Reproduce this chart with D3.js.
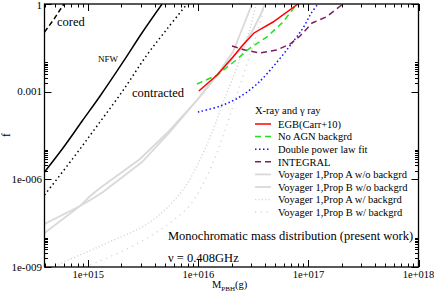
<!DOCTYPE html>
<html>
<head>
<meta charset="utf-8">
<script src="https://cdn.jsdelivr.net/npm/d3@7"></script>
<style>
  body { margin: 0; background: #fff; }
  svg text { font-family: "Liberation Serif", "Times New Roman", serif; fill: #000; }
</style>
</head>
<body>
<div id="chart"></div>
<script>
// ---- data (M_PBH in g, f) ----
var coredM = [4.0e14, 4.9e14, 6.0e14];
var coredF = [0.11, 0.31, 1];

var nfwM = [4.0e14, 5.8e14, 8.8e14, 1.28e15, 2.07e15, 3.07e15, 4.68e15];
var nfwF = [1.78e-6, 1.09e-5, 9.9e-5, 7.1e-4, 0.0104, 0.102, 1];

var contractedM = [4.0e14, 7.3e14, 1.2e15, 2.02e15, 3.41e15, 5.19e15, 7.88e15];
var contractedF = [2.9e-7, 5.4e-6, 6.7e-5, 9.7e-4, 0.018, 0.139, 1];

var egbM = [1.01e16, 1.48e16, 2.06e16, 2.49e16, 3.2e16, 4.77e16, 8.04e16];
var egbF = [1.05e-3, 3.7e-3, 0.0153, 0.0366, 0.102, 0.242, 1];

var noAgnM = [9.7e15, 1.48e16, 2.15e16, 2.94e16, 4.2e16, 5.87e16, 7.87e16];
var noAgnF = [1.83e-3, 3.7e-3, 0.0112, 0.0312, 0.0743, 0.242, 1];

var dplM = [9.9e15, 1.57e16, 2.29e16, 3.41e16, 5.19e16, 7.1e16, 8.93e16, 1.05e17, 1.22e17];
var dplF = [2.0e-4, 3.2e-4, 6.1e-4, 1.83e-3, 0.0104, 0.0463, 0.151, 0.455, 1];

var integralM = [2.02e16, 2.65e16, 3.63e16, 5.19e16, 6.81e16, 8.39e16, 1.08e17, 1.45e17, 2.06e17];
var integralF = [0.0366, 0.0267, 0.021, 0.0267, 0.0428, 0.0803, 0.224, 0.359, 1];

var voyAM = [4.0e14, 8.4e14, 1.04e15, 1.28e15, 2.95e15, 5.19e15, 9.73e15, 1.48e16, 2.06e16, 2.65e16, 3.07e16];
var voyAF = [2.96e-8, 1.22e-7, 2.69e-7, 5.05e-7, 4.96e-6, 3.85e-5, 5.19e-4, 3.7e-3, 0.0228, 0.242, 1];

var voyBM = [4.0e14, 8.4e14, 1.08e15, 1.36e15, 3.08e15, 5.52e15, 1.03e16, 1.57e16, 2.39e16, 3.13e16, 3.63e16, 4.03e16];
var voyBF = [1.46e-8, 1.22e-7, 2.12e-7, 3.68e-7, 3.92e-6, 4.17e-5, 6.56e-4, 4.71e-3, 0.0267, 0.129, 0.388, 1];

var voyABgM = [4.68e14, 8.4e14, 1.48e15, 3.64e15, 7.24e15, 1.03e16, 1.36e16, 1.64e16, 2.02e16, 2.55e16, 3.01e16, 3.34e16];
var voyABgF = [1e-9, 2.57e-9, 6.62e-9, 3.46e-8, 4.31e-7, 4.58e-6, 4.88e-5, 3.5e-4, 2.51e-3, 0.0267, 0.191, 1];

var voyBBgM = [9.33e14, 2.55e15, 5.19e15, 8.4e15, 1.15e16, 1.51e16, 1.94e16, 2.39e16, 2.94e16, 3.48e16, 4.03e16];
var voyBBgF = [1e-9, 5.23e-9, 2.73e-8, 1.32e-7, 9.48e-7, 1.01e-5, 1.59e-4, 1.69e-3, 0.018, 0.129, 1];

var xMajor = [1e15, 1e16, 1e17, 1e18];
var xMajorLabels = ["1e+015", "1e+016", "1e+017", "1e+018"];
var yMajor = [1e-9, 1e-6, 1e-3, 1];
var yMajorLabels = ["1e-009", "1e-006", "0.001", "1"];

var legendTitle = "X-ray and \u03b3 ray";
var legendNames = ["EGB(Carr+10)", "No AGN backgrd", "Double power law fit", "INTEGRAL",
  "Voyager 1,Prop A w/o backgrd", "Voyager 1,Prop B w/o backgrd",
  "Voyager 1,Prop A w/ backgrd", "Voyager 1,Prop B w/ backgrd"];

// ---- chart ----
var width = 436, height = 293;
var pL = 44.5, pR = 418.5, pT = 4, pB = 267;

var x = d3.scaleLog().domain([4e14, 1e18]).range([pL, pR]);
var y = d3.scaleLog().domain([1e-9, 1]).range([pB, pT]);

var svg = d3.select("#chart").append("svg")
  .attr("width", width)
  .attr("height", height);

svg.append("defs").append("clipPath").attr("id", "clip")
  .append("rect")
  .attr("x", pL).attr("y", pT)
  .attr("width", pR - pL).attr("height", pB - pT);

function zip(ms, fs) {
  return ms.map(function(m, i) { return [m, fs[i]]; });
}

var smooth = d3.line()
  .x(function(d) { return x(d[0]); })
  .y(function(d) { return y(d[1]); })
  .curve(d3.curveCatmullRom.alpha(0.5));

var straight = d3.line()
  .x(function(d) { return x(d[0]); })
  .y(function(d) { return y(d[1]); });

// styles for each series
var series = [
  { data: zip(voyABgM, voyABgF), color: "#d6d6d6", w: 1.4, dash: "1.2,2.2", gen: smooth },
  { data: zip(voyBBgM, voyBBgF), color: "#d6d6d6", w: 1.4, dash: "1.2,4.5", gen: smooth },
  { data: zip(voyAM, voyAF), color: "#d9d9d9", w: 1.8, dash: null, gen: straight },
  { data: zip(voyBM, voyBF), color: "#d9d9d9", w: 1.8, dash: null, gen: straight },
  { data: zip(coredM, coredF), color: "#000", w: 1.5, dash: "5,3", gen: straight },
  { data: zip(nfwM, nfwF), color: "#000", w: 1.5, dash: null, gen: smooth },
  { data: zip(contractedM, contractedF), color: "#000", w: 1.5, dash: "1.5,3", gen: smooth },
  { data: zip(dplM, dplF), color: "#1010ff", w: 1.5, dash: "1.5,2.5", gen: smooth },
  { data: zip(integralM, integralF), color: "#7b1f5e", w: 1.5, dash: "6,4", gen: straight },
  { data: zip(noAgnM, noAgnF), color: "#22e022", w: 1.5, dash: "6,4", gen: straight },
  { data: zip(egbM, egbF), color: "#ff0000", w: 1.5, dash: null, gen: straight }
];

svg.append("g").attr("clip-path", "url(#clip)")
  .selectAll("path")
  .data(series)
  .enter().append("path")
  .attr("d", function(d) { return d.gen(d.data); })
  .attr("fill", "none")
  .attr("stroke", function(d) { return d.color; })
  .attr("stroke-width", function(d) { return d.w; })
  .attr("stroke-dasharray", function(d) { return d.dash; });

// frame
svg.append("rect")
  .attr("x", pL).attr("y", pT)
  .attr("width", pR - pL).attr("height", pB - pT)
  .attr("fill", "none")
  .attr("stroke", "#000")
  .attr("stroke-width", 1.3);

// ticks (inward, all four sides)
var xMinor = [];
[1e14, 1e15, 1e16, 1e17].forEach(function(dec) {
  for (var k = 2; k <= 9; k++) {
    var v = dec * k;
    if (v >= 4e14 && v < 1e18) xMinor.push(v);
  }
});
var yMinor = [];
[1e-9, 1e-6, 1e-3].forEach(function(m) {
  for (var k = 2; k <= 10; k++) yMinor.push(m * k);
});

var ticks = svg.append("g").attr("stroke", "#000").attr("stroke-width", 1);
function xTick(v, len) {
  var px = Math.round(x(v)) + 0.5;
  ticks.append("line").attr("x1", px).attr("x2", px).attr("y1", pB).attr("y2", pB - len);
  ticks.append("line").attr("x1", px).attr("x2", px).attr("y1", pT).attr("y2", pT + len);
}
function yTick(v, len) {
  var py = Math.round(y(v)) + 0.5;
  ticks.append("line").attr("x1", pL).attr("x2", pL + len).attr("y1", py).attr("y2", py);
  ticks.append("line").attr("x1", pR).attr("x2", pR - len).attr("y1", py).attr("y2", py);
}
xMinor.forEach(function(v) { xTick(v, 3.5); });
xMajor.forEach(function(v) { xTick(v, 7); });
yMinor.forEach(function(v) { yTick(v, 3.5); });
yMajor.forEach(function(v) { yTick(v, 7); });

// tick labels
svg.append("g").selectAll("text")
  .data(xMajor)
  .enter().append("text")
  .attr("x", function(d) { return x(d); })
  .attr("y", 278)
  .attr("text-anchor", "middle")
  .style("font-size", "10.5px")
  .text(function(d, i) { return xMajorLabels[i]; });

svg.append("g").selectAll("text")
  .data(yMajor)
  .enter().append("text")
  .attr("x", 42)
  .attr("y", function(d) { return Math.max(y(d) + 3.8, 9); })
  .attr("text-anchor", "end")
  .style("font-size", "11px")
  .text(function(d, i) { return yMajorLabels[i]; });

// axis titles
var xt = svg.append("text")
  .attr("x", 212)
  .attr("y", 288)
  .style("font-size", "10.5px");
xt.append("tspan").text("M");
xt.append("tspan").attr("dy", 2.5).style("font-size", "7px").text("PBH");
xt.append("tspan").attr("dy", -2.5).text("(g)");

svg.append("text")
  .attr("transform", "translate(10,135) rotate(-90)")
  .attr("text-anchor", "middle")
  .style("font-size", "11.5px")
  .text("f");

// curve labels
svg.append("text").attr("x", 57).attr("y", 26).style("font-size", "12.5px").text("cored");
svg.append("text").attr("x", 98).attr("y", 62).style("font-size", "9px").text("NFW");
svg.append("text").attr("x", 132).attr("y", 97).style("font-size", "12.5px").text("contracted");

svg.append("text").attr("x", 168).attr("y", 240).style("font-size", "12.5px")
  .text("Monochromatic mass distribution (present work)");
svg.append("text").attr("x", 168).attr("y", 262).style("font-size", "12.5px")
  .text("\u03bd = 0.408GHz");

// legend
var legendStyles = [series[10], series[9], series[7], series[8], series[2], series[3], series[0], series[1]];
var legend = svg.append("g");
legend.append("text").attr("x", 255).attr("y", 114).style("font-size", "10.5px").text(legendTitle);

var rows = legend.selectAll("g.row")
  .data(legendNames)
  .enter().append("g")
  .attr("class", "row")
  .attr("transform", function(d, i) { return "translate(0," + (124 + i * 12.6) + ")"; });

rows.append("line")
  .attr("x1", 255).attr("x2", 271)
  .attr("y1", 0).attr("y2", 0)
  .attr("stroke", function(d, i) { return legendStyles[i].color; })
  .attr("stroke-width", function(d, i) { return legendStyles[i].w; })
  .attr("stroke-dasharray", function(d, i) { return legendStyles[i].dash; });

rows.append("text")
  .attr("x", 278)
  .attr("y", 3.8)
  .style("font-size", "10.5px")
  .text(function(d) { return d; });
</script>
</body>
</html>
